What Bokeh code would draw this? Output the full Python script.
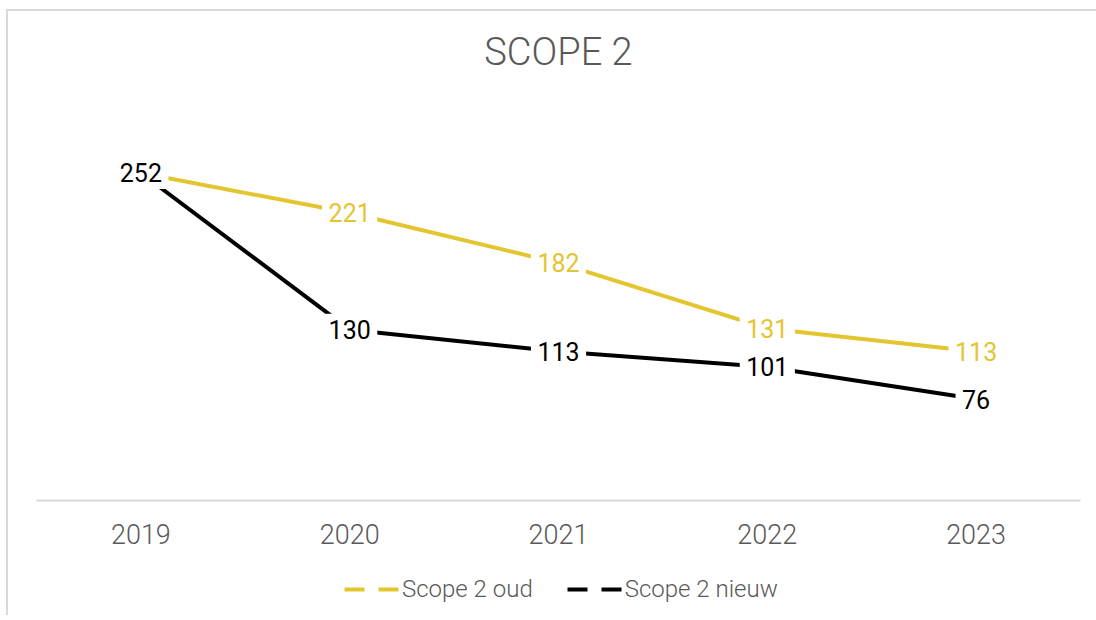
from bokeh.plotting import figure
from bokeh.models import Range1d, FactorRange, Legend, LegendItem, ColumnDataSource, Title
from bokeh.layouts import column
from bokeh.core.properties import value
from bokeh.embed import file_html
from bokeh.resources import INLINE

years = ["2019", "2020", "2021", "2022", "2023"]
oud = [252, 221, 182, 131, 113]
nieuw = [252, 130, 113, 101, 76]
labels_oud = ["", "221", "182", "131", "113"]
labels_nieuw = ["252", "130", "113", "101", "76"]
series_names = ["Scope 2 oud", "Scope 2 nieuw"]

YELLOW = "#E3C52F"
GRAY = "#595959"

p = figure(width=1088, height=545, x_range=FactorRange(*years, range_padding=0),
           y_range=Range1d(-3, 317), output_backend="svg", toolbar_location=None,
           min_border_left=28, min_border_right=16, min_border_top=10, min_border_bottom=56)
p.outline_line_color = None
p.xgrid.visible = False
p.ygrid.visible = False
p.yaxis.visible = False

p.title = Title(text="SCOPE 2", align="center", text_font="Roboto Light", text_font_size="38px",
                text_color=GRAY, text_font_style="normal", standoff=32)

ax = p.xaxis[0]
ax.axis_line_color = "#d9d9d9"
ax.axis_line_width = 2
ax.major_tick_line_color = None
ax.minor_tick_line_color = None
ax.major_label_text_font = "Roboto Light"
ax.major_label_text_font_size = "27px"
ax.major_label_text_color = GRAY
ax.major_label_standoff = 17

src = ColumnDataSource(dict(x=years, oud=oud, nieuw=nieuw, lo=labels_oud, ln=labels_nieuw))

p.line("x", "oud", source=src, line_color=YELLOW, line_width=4)
p.line("x", "nieuw", source=src, line_color="black", line_width=4)

p.text("x", "oud", text="lo", source=src, text_color=YELLOW, text_font=value("Roboto"),
       text_font_size="25px", text_align="center", text_baseline="middle",
       background_fill_color="white", border_line_color="white", border_line_width=7,
       padding=3)
p.text("x", "nieuw", text="ln", source=src, text_color="black", text_font=value("Roboto"),
       text_font_size="25px", text_align="center", text_baseline="middle",
       background_fill_color="white", border_line_color="white", border_line_width=7,
       padding=3)

# legend strip
p2 = figure(width=1088, height=59, x_range=Range1d(0, 1), y_range=Range1d(0, 1),
            output_backend="svg", toolbar_location=None,
            min_border_left=0, min_border_right=0, min_border_top=0, min_border_bottom=0)
p2.outline_line_color = None
p2.xaxis.visible = False
p2.yaxis.visible = False
p2.xgrid.visible = False
p2.ygrid.visible = False

nan = float("nan")
r1 = p2.line(x=[0, 1], y=[nan, nan], line_color=YELLOW, line_width=4, line_dash="20 14")
r2 = p2.line(x=[0, 1], y=[nan, nan], line_color="black", line_width=4, line_dash="20 14")

legend = Legend(items=[LegendItem(label=series_names[0], renderers=[r1]),
                       LegendItem(label=series_names[1], renderers=[r2])],
                orientation="horizontal", location=(308, 12),
                label_text_font="Roboto Light", label_text_font_size="24px",
                label_text_color=GRAY, glyph_width=55, label_standoff=3, spacing=34,
                border_line_color=None, background_fill_alpha=0, padding=0, margin=0)
p2.add_layout(legend, "center")

layout = column(p, p2, spacing=0)
layout.styles = {"margin-left": "6px", "margin-top": "9px",
                 "border-left": "2px solid #d9d9d9", "border-top": "2px solid #d9d9d9"}

open("out.html", "w").write(file_html(layout, INLINE))
